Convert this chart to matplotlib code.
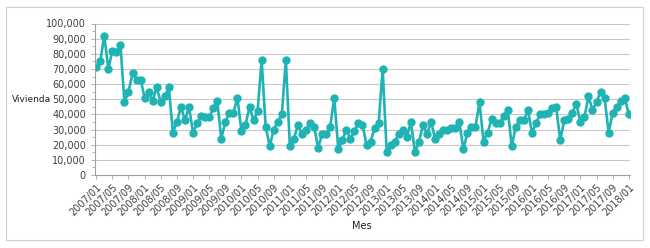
import matplotlib
matplotlib.use("Agg")
import matplotlib.pyplot as plt
from matplotlib.patches import Rectangle
from matplotlib.ticker import FuncFormatter, MultipleLocator

# Datos mensuales 2007/01 - 2018/01 (miles)
anios = list(range(2007, 2019))
vivienda = [
    71, 75, 92, 70, 82, 81, 86, 48, 55, 67, 63, 63,   # 2007
    51, 55, 49, 58, 48, 52, 58, 28, 35, 45, 36, 45,   # 2008
    28, 34, 39, 38, 38, 44, 49, 24, 35, 41, 41, 51,   # 2009
    29, 33, 45, 36, 42, 76, 32, 19, 30, 35, 40, 76,   # 2010
    19, 24, 33, 27, 30, 34, 32, 18, 27, 27, 32, 51,   # 2011
    17, 23, 30, 24, 29, 34, 33, 20, 22, 31, 34, 70,   # 2012
    15, 20, 22, 27, 30, 25, 35, 15, 22, 33, 27, 35,   # 2013
    24, 27, 30, 30, 31, 31, 35, 17, 28, 32, 32, 48,   # 2014
    22, 28, 37, 34, 34, 39, 43, 19, 32, 36, 36, 43,   # 2015
    28, 34, 40, 40, 41, 44, 45, 23, 36, 37, 41, 47,   # 2016
    35, 38, 52, 43, 48, 55, 51, 28, 41, 45, 49, 51,   # 2017
    40,                                               # 2018
]
vivienda = [v * 1000 for v in vivienda]

meses = [f"{a}/{m:02d}" for a in anios for m in range(1, 13)][:len(vivienda)]

color = "#1FB3B3"

fig = plt.figure(figsize=(6.5, 2.48), dpi=100)
fig.patches.append(Rectangle((6 / 650, 1 - 240 / 248), 637 / 650, 233 / 248,
                             transform=fig.transFigure, fill=False,
                             edgecolor="#d0d0d0", linewidth=0.8))

ax = fig.add_axes([95 / 650, 1 - 175 / 248, 535 / 650, 151.5 / 248])
x = list(range(len(vivienda)))
ax.plot(x, vivienda, color=color, linewidth=1.9, marker="o",
        markersize=5, markerfacecolor=color, markeredgecolor=color)

ax.set_ylim(0, 100000)
ax.set_xlim(-0.3, len(vivienda) - 0.7)
ax.yaxis.set_major_locator(MultipleLocator(10000))
ax.yaxis.set_minor_locator(MultipleLocator(5000))
ax.yaxis.set_major_formatter(FuncFormatter(lambda v, p: f"{int(v):,}"))
ax.grid(axis="y", color="#c8c8c8", linewidth=0.8)
ax.set_axisbelow(True)

ax.set_xticks(x[::4])
ax.set_xticklabels(meses[::4], rotation=45, ha="right", rotation_mode="anchor")
ax.set_xticks(x, minor=True)

for s in ["top", "right"]:
    ax.spines[s].set_visible(False)
for s in ["left", "bottom"]:
    ax.spines[s].set_color("#a0a0a0")
    ax.spines[s].set_linewidth(0.8)
ax.tick_params(axis="both", which="both", colors="#a0a0a0", labelcolor="#404040",
               labelsize=7, length=3, width=0.6)
ax.tick_params(axis="y", which="minor", length=2)
ax.tick_params(axis="x", which="minor", length=0)
ax.tick_params(axis="x", pad=2)

fig.text(51 / 650, 1 - 100 / 248, "Vivienda", fontsize=6.5, color="#202020",
         ha="right", va="center")
fig.text(362 / 650, 1 - 226 / 248, "Mes", fontsize=7, color="#202020",
         ha="center", va="center")

fig.savefig("out.png", dpi=100)
